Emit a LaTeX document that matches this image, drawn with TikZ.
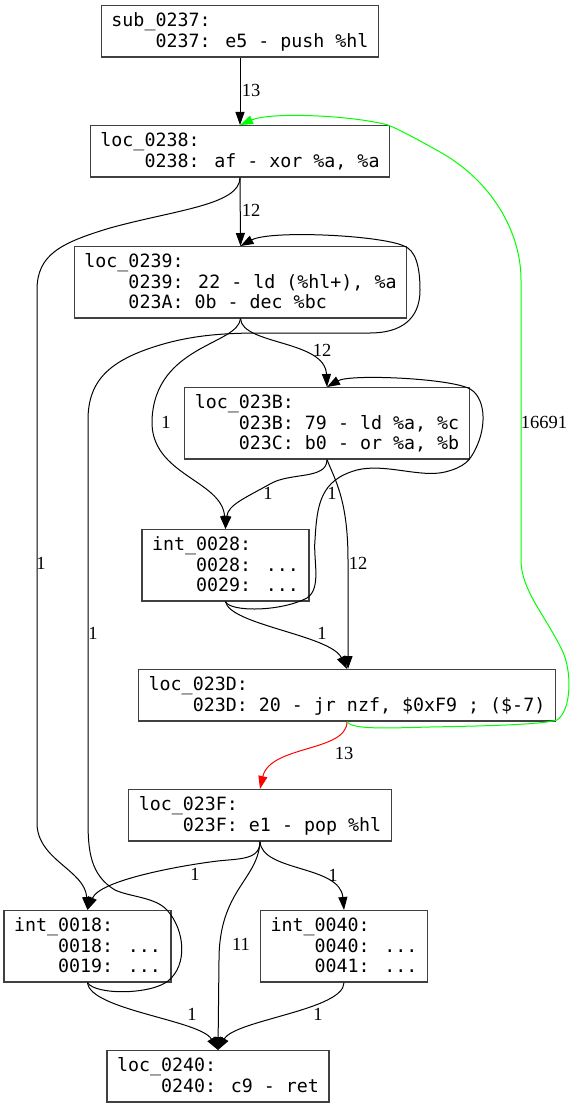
\documentclass[tikz,border=0pt]{standalone}
\usepackage{fontspec}
\newfontfamily\dvmono{DejaVu Sans Mono}
\newfontfamily\lbserif{Liberation Serif}
\usetikzlibrary{arrows.meta}
\definecolor{gvgreen}{RGB}{0,255,0}
\definecolor{gvred}{RGB}{255,0,0}
\newcommand{\Ls}{\rule[-4pt]{0pt}{20pt}}
\newcommand{\Ind}{\hphantom{0000}}
\begin{document}
\begin{tikzpicture}[x=1pt,y=-1pt,
 blk/.style={draw=black!75, line width=1.3pt, fill=white, font=\dvmono\fontsize{18.3}{20}\selectfont, align=left, inner xsep=10pt, inner ysep=5pt, anchor=north},
 edge/.style={line width=1pt, -{Triangle[length=13pt,width=9pt]}},
 lbl/.style={font=\lbserif\fontsize{18.5}{20}\selectfont, inner sep=0pt}]
\useasboundingbox (0,0) rectangle (578,1107);

\node[blk] (A) at (240,5) {\Ls sub\_0237:\\\Ls\Ind 0237: e5 - push \%hl};
\node[blk] (B) at (240,125) {\Ls loc\_0238:\\\Ls\Ind 0238: af - xor \%a, \%a};
\node[blk] (C) at (240.5,246) {\Ls loc\_0239:\\\Ls\Ind 0239: 22 - ld (\%hl+), \%a\\\Ls\Ind 023A: 0b - dec \%bc};
\node[blk] (D) at (327,387) {\Ls loc\_023B:\\\Ls\Ind 023B: 79 - ld \%a, \%c\\\Ls\Ind 023C: b0 - or \%a, \%b};
\node[blk] (E) at (225.5,529) {\Ls int\_0028:\\\Ls\Ind 0028: ...\\\Ls\Ind 0029: ...};
\node[blk] (F) at (347,669) {\Ls loc\_023D:\\\Ls\Ind 023D: 20 - jr nzf, \$0xF9 ; (\$-7)};
\node[blk] (G) at (260,789) {\Ls loc\_023F:\\\Ls\Ind 023F: e1 - pop \%hl};
\node[blk] (H) at (87.5,910) {\Ls int\_0018:\\\Ls\Ind 0018: ...\\\Ls\Ind 0019: ...};
\node[blk] (I) at (344,910) {\Ls int\_0040:\\\Ls\Ind 0040: ...\\\Ls\Ind 0041: ...};
\node[blk] (J) at (218,1050) {\Ls loc\_0240:\\\Ls\Ind 0240: c9 - ret};

% forward edges
\draw[edge] (A.south) -- (B.north);
\draw[edge] (B.south) -- (C.north);
\draw[edge] (B.south) .. controls (240,205) and (175,210) .. (110,228)
  .. controls (60,243) and (37,255) .. (37,290) -- (37,823)
  .. controls (37,860) and (85,870) .. (H.north);
\draw[edge] (C.south) .. controls (242,345) and (325,340) .. (D.north);
\draw[edge] (C.south) .. controls (238,345) and (155,345) .. (152,420)
  .. controls (150,475) and (222,480) .. (E.north);
\draw[edge] (D.south) .. controls (327,480) and (290,472) .. (270,484)
  .. controls (245,498) and (228,505) .. (E.north);
\draw[edge] (D.south) .. controls (335,480) and (348,500) .. (348,560) -- (348,669);
\draw[edge] (E.south) .. controls (230,625) and (330,635) .. (F.north);
\draw[edge,gvred] (F.south) .. controls (347,752) and (270,745) .. (G.north);
\draw[edge] (G.south) .. controls (260,862) and (235,858) .. (210,862)
  .. controls (180,866) and (100,880) .. (H.north);
\draw[edge] (G.south) .. controls (258,880) and (219,890) .. (219,960) -- (J.north);
\draw[edge] (G.south) .. controls (262,872) and (340,865) .. (I.north);
\draw[edge] (H.south) .. controls (90,1010) and (200,1020) .. (J.north);
\draw[edge] (I.south) .. controls (344,1010) and (235,1020) .. (J.north);

% back edges
\draw[edge] (E.south) .. controls (230,612) and (280,612) .. (307,598)
  .. controls (322,588) and (313,560) .. (315,540)
  .. controls (317,505) and (320,480) .. (357,470)
  .. controls (385,463) and (420,478) .. (445,472)
  .. controls (465,467) and (470,460) .. (475,450)
  .. controls (488,425) and (485,395) .. (468,388)
  .. controls (445,378) and (350,374) .. (D.north);
\draw[edge] (H.south) .. controls (95,995) and (150,995) .. (168,981)
  .. controls (188,965) and (185,930) .. (167,910)
  .. controls (155,897) and (130,897) .. (115,890)
  .. controls (90,875) and (88,850) .. (88,820) -- (88,420)
  .. controls (88,380) and (110,360) .. (160,345)
  .. controls (190,336) and (220,333) .. (260,333) -- (370,333)
  .. controls (400,333) and (420,320) .. (420,290)
  .. controls (420,265) and (415,250) .. (404,246)
  .. controls (380,235) and (270,230) .. (C.north);
\draw[edge,gvgreen] (F.south) .. controls (352,730) and (390,728) .. (430,727)
  .. controls (480,726) and (540,725) .. (557,720)
  .. controls (572,710) and (572,670) .. (562,650)
  .. controls (545,615) and (521,590) .. (521,560) -- (521,280)
  .. controls (521,230) and (490,180) .. (440,152)
  .. controls (415,138) and (400,130) .. (388,125)
  .. controls (350,115) and (270,112) .. (B.north);

% labels
\node[lbl] (l1) at (251,90) {13};
\node[lbl] (l2) at (251,210) {12};
\node[lbl] (l3) at (41,563) {1};
\node[lbl] (l4) at (322,350) {12};
\node[lbl] (l5) at (166,422) {1};
\node[lbl] (l6) at (268,493) {1};
\node[lbl] (l7) at (358,563) {12};
\node[lbl] (l8) at (322,633) {1};
\node[lbl] (l9) at (332,493) {1};
\node[lbl] (l10) at (93,633) {1};
\node[lbl] (l11) at (344,753) {13};
\node[lbl] (l12) at (544,422) {16691};
\node[lbl] (l13) at (195,874) {1};
\node[lbl] (l14) at (241,944) {11};
\node[lbl] (l15) at (333,875) {1};
\node[lbl] (l16) at (192,1014) {1};
\node[lbl] (l17) at (318,1014) {1};
\end{tikzpicture}
\end{document}
